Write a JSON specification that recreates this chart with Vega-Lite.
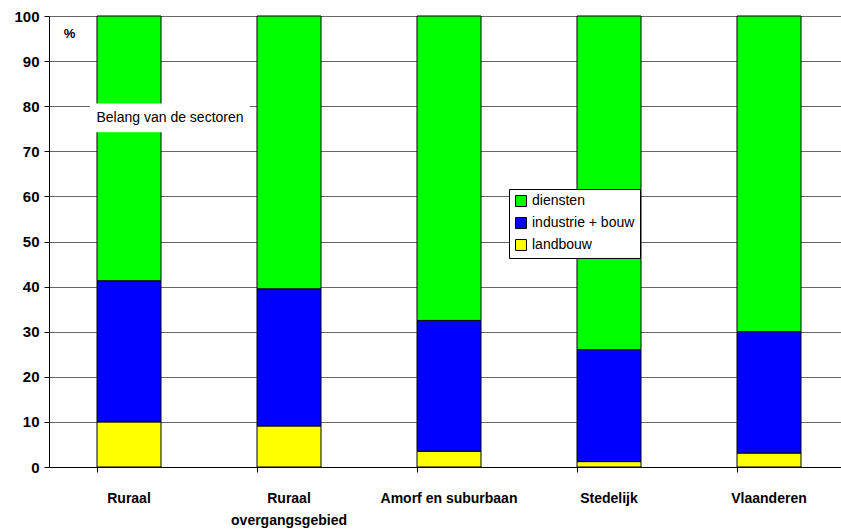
{
  "$schema": "https://vega.github.io/schema/vega-lite/v6.json",
  "autosize": {"type": "none"},
  "padding": {"left": 49, "top": 16, "right": -8, "bottom": 62},
  "width": 800,
  "height": 451,
  "background": "white",
  "datasets": {
    "sectors": [
      {"gebied": "Ruraal", "sector": "landbouw", "volgorde": 1, "pct": 10.0},
      {"gebied": "Ruraal", "sector": "industrie + bouw", "volgorde": 2, "pct": 31.3},
      {"gebied": "Ruraal", "sector": "diensten", "volgorde": 3, "pct": 58.7},
      {"gebied": "Ruraal overgangsgebied", "sector": "landbouw", "volgorde": 1, "pct": 9.1},
      {"gebied": "Ruraal overgangsgebied", "sector": "industrie + bouw", "volgorde": 2, "pct": 30.4},
      {"gebied": "Ruraal overgangsgebied", "sector": "diensten", "volgorde": 3, "pct": 60.5},
      {"gebied": "Amorf en suburbaan", "sector": "landbouw", "volgorde": 1, "pct": 3.5},
      {"gebied": "Amorf en suburbaan", "sector": "industrie + bouw", "volgorde": 2, "pct": 29.0},
      {"gebied": "Amorf en suburbaan", "sector": "diensten", "volgorde": 3, "pct": 67.5},
      {"gebied": "Stedelijk", "sector": "landbouw", "volgorde": 1, "pct": 1.2},
      {"gebied": "Stedelijk", "sector": "industrie + bouw", "volgorde": 2, "pct": 24.8},
      {"gebied": "Stedelijk", "sector": "diensten", "volgorde": 3, "pct": 74.0},
      {"gebied": "Vlaanderen", "sector": "landbouw", "volgorde": 1, "pct": 3.1},
      {"gebied": "Vlaanderen", "sector": "industrie + bouw", "volgorde": 2, "pct": 26.9},
      {"gebied": "Vlaanderen", "sector": "diensten", "volgorde": 3, "pct": 70.0}
    ],
    "note": [
      {"gebied": "Ruraal", "y": 74.2, "y2": 80.6, "ym": 77.4, "label": "Belang van de sectoren"}
    ]
  },
  "encoding": {
    "x": {
      "field": "gebied",
      "type": "nominal",
      "sort": null,
      "scale": {
        "domain": ["Ruraal", "Ruraal overgangsgebied", "Amorf en suburbaan", "Stedelijk", "Vlaanderen"],
        "paddingInner": 0.6,
        "paddingOuter": 0.3
      },
      "axis": {
        "title": null,
        "labelAngle": 0,
        "labelExpr": "datum.value == 'Ruraal overgangsgebied' ? ['Ruraal', 'overgangsgebied'] : datum.value",
        "labelFont": "Liberation Sans",
        "labelFontSize": 14,
        "labelFontWeight": "bold",
        "labelColor": "black",
        "labelPadding": 19,
        "labelLineHeight": 22,
        "bandPosition": 0,
        "tickSize": 5,
        "tickColor": "black",
        "domainColor": "black",
        "grid": false
      }
    }
  },
  "layer": [
    {
      "data": {"name": "sectors"},
      "mark": {"type": "bar", "stroke": "black", "strokeWidth": 1},
      "encoding": {
        "y": {
          "field": "pct",
          "type": "quantitative",
          "stack": "zero",
          "scale": {"domain": [0, 100], "nice": false},
          "axis": {
            "values": [0, 10, 20, 30, 40, 50, 60, 70, 80, 90, 100],
            "title": "%",
            "titleAngle": 0,
            "titleX": 20,
            "titleY": 17,
            "titleAlign": "center",
            "titleBaseline": "middle",
            "titleFont": "Liberation Sans",
            "titleFontSize": 13,
            "titleFontWeight": "bold",
            "labelFont": "Liberation Sans",
            "labelFontSize": 15,
            "labelFontWeight": "bold",
            "labelColor": "black",
            "labelPadding": 5,
            "tickSize": 5,
            "tickColor": "black",
            "domainColor": "black",
            "gridColor": "#666666",
            "gridOpacity": 1
          }
        },
        "color": {
          "field": "sector",
          "type": "nominal",
          "scale": {
            "domain": ["diensten", "industrie + bouw", "landbouw"],
            "range": ["#00ff00", "#0000ff", "#ffff00"]
          },
          "legend": {
            "title": null,
            "orient": "none",
            "legendX": 460,
            "legendY": 173,
            "symbolType": "square",
            "symbolSize": 120,
            "symbolStrokeColor": "black",
            "symbolStrokeWidth": 1,
            "symbolOpacity": 1,
            "labelFont": "Liberation Sans",
            "labelFontSize": 14,
            "labelColor": "black",
            "labelOffset": 4,
            "rowPadding": 6,
            "padding": 5,
            "fillColor": "white",
            "strokeColor": "black"
          }
        },
        "order": {"field": "volgorde", "type": "quantitative"}
      }
    },
    {
      "data": {"name": "note"},
      "mark": {"type": "bar", "fill": "white", "width": 160, "xOffset": 41},
      "encoding": {
        "y": {"field": "y", "type": "quantitative"},
        "y2": {"field": "y2"}
      }
    },
    {
      "data": {"name": "note"},
      "mark": {
        "type": "text",
        "dx": 41,
        "font": "Liberation Sans",
        "fontSize": 14,
        "color": "black",
        "baseline": "middle"
      },
      "encoding": {
        "y": {"field": "ym", "type": "quantitative"},
        "text": {"field": "label"}
      }
    }
  ],
  "config": {
    "view": {"stroke": null}
  }
}
